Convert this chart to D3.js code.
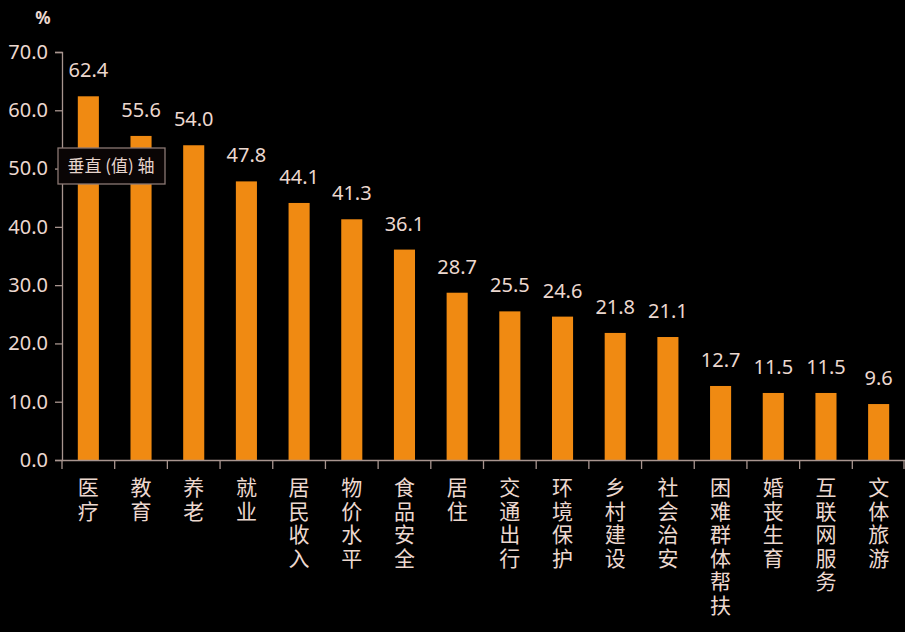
<!DOCTYPE html>
<html><head><meta charset="utf-8">
<script src="https://cdn.jsdelivr.net/npm/d3@7"></script>
<style>body{margin:0;background:#000;}svg{display:block;}</style>
</head><body>
<svg id="c" width="905" height="632"></svg>
<script>
const categories = ["医疗","教育","养老","就业","居民收入","物价水平","食品安全","居住","交通出行","环境保护","乡村建设","社会治安","困难群体帮扶","婚丧生育","互联网服务","文体旅游"];
const values = [62.4,55.6,54.0,47.8,44.1,41.3,36.1,28.7,25.5,24.6,21.8,21.1,12.7,11.5,11.5,9.6];
const yTicks = [0,10,20,30,40,50,60,70];
const unitLabel = "%";
const tipText = "垂直 (值) 轴";

const svg = d3.select("#c");
const txt = "#ecd8cf", axisCol = "#a8958f", barCol = "#f08a12";
const numFont = "'Noto Sans', 'Open Sans', sans-serif";
const cjkFont = "'Noto Sans CJK SC', sans-serif";

const x = d3.scaleBand().domain(categories).range([62, 905]).paddingInner(0).paddingOuter(0);
const y = d3.scaleLinear().domain([0,70]).range([460, 52]);
const bw = x.bandwidth()*0.4;

// bars
svg.selectAll("rect.bar").data(values).enter().append("rect")
  .attr("class","bar")
  .attr("x",(d,i)=>x(categories[i])+x.bandwidth()/2-bw/2)
  .attr("y",d=>y(d)).attr("width",bw).attr("height",d=>y(0)-y(d))
  .attr("fill",barCol);

// value labels
svg.selectAll("text.val").data(values).enter().append("text")
  .attr("x",(d,i)=>x(categories[i])+x.bandwidth()/2)
  .attr("y",d=>y(d)-19)
  .attr("text-anchor","middle").attr("fill",txt)
  .style("font-family",numFont).style("font-size","20px")
  .text(d=>d.toFixed(1));

// y axis
const ya = svg.append("g").attr("transform","translate(62,0)")
  .call(d3.axisLeft(y).tickValues(yTicks).tickSize(7).tickPadding(7).tickFormat(d=>d.toFixed(1)));
ya.selectAll("line,path").attr("stroke",axisCol).attr("stroke-width",1.3);
ya.selectAll("text").attr("fill",txt).style("font-family",numFont).style("font-size","20px");

// x axis
const xa = svg.append("g").attr("transform","translate(0,460)")
  .call(d3.axisBottom(x).tickSize(0).tickFormat(""));
xa.select("path").attr("stroke",axisCol).attr("stroke-width",1.3);
xa.selectAll(".tick").remove();
const bounds = categories.map(c=>x(c)).concat([x.range()[1]-1]);
xa.selectAll("line.b").data(bounds).enter().append("line")
  .attr("x1",d=>d).attr("x2",d=>d).attr("y1",0).attr("y2",9)
  .attr("stroke",axisCol).attr("stroke-width",1.3);

// category labels (vertical writing mode, one text per label)
svg.selectAll("text.cat").data(categories).enter().append("text")
  .attr("class","cat")
  .attr("x",d=>x(d)+x.bandwidth()/2).attr("y",477)
  .attr("fill",txt)
  .style("writing-mode","vertical-rl").style("text-orientation","upright")
  .style("letter-spacing","2.5px")
  .style("font-family",cjkFont).style("font-size","21px")
  .text(d=>d);

// unit
svg.append("text").attr("x",43).attr("y",24).attr("text-anchor","middle")
  .attr("fill",txt).style("font-family",numFont).style("font-size","17px").style("font-weight","bold").text(unitLabel);

// tooltip
svg.append("rect").attr("x",58).attr("y",148).attr("width",107).attr("height",36)
  .attr("fill","#0a0505").attr("stroke","#8a7873").attr("stroke-width",1.3);
svg.append("text").attr("x",111).attr("y",172).attr("text-anchor","middle").attr("fill","#e6d4cc")
  .style("font-family",cjkFont).style("font-size","17px").text(tipText);
</script>
</body></html>
